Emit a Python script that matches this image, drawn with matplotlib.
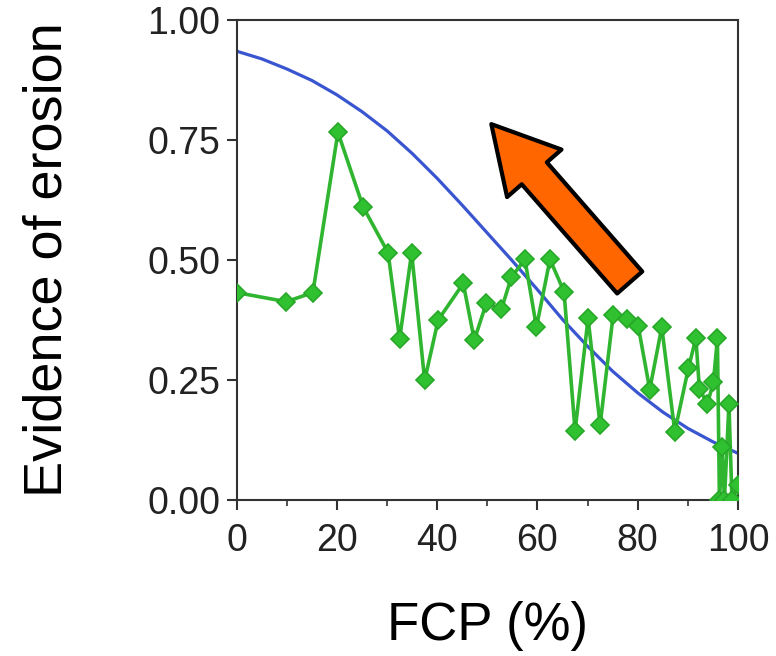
import matplotlib
matplotlib.use("Agg")
import matplotlib.pyplot as plt

# Observed evidence of erosion (green series)
fcp_obs = [0, 9.9, 15.2, 20.2, 25.2, 30.2, 32.5, 34.9, 37.5, 40.2, 45.2, 47.4, 49.8,
           52.8, 54.8, 57.5, 59.8, 62.5, 65.3, 67.5, 70.1, 72.5, 75.1, 77.8, 80.1,
           82.4, 84.8, 87.4, 90.1, 91.6, 92.3, 93.9, 95.1, 95.9, 96.3, 96.8, 97.3,
           98.2, 98.8, 100]
ev_obs = [0.432, 0.413, 0.432, 0.766, 0.611, 0.515, 0.335, 0.515, 0.249, 0.375,
          0.451, 0.333, 0.410, 0.397, 0.464, 0.501, 0.360, 0.501, 0.434, 0.144,
          0.378, 0.156, 0.385, 0.376, 0.362, 0.230, 0.360, 0.142, 0.274, 0.337,
          0.232, 0.200, 0.245, 0.337, 0.0, 0.111, 0.0, 0.200, 0.0, 0.030]

# Fitted curve (blue)
fcp_fit = [0, 5, 10, 15, 20, 25, 30, 35, 40, 45, 50, 55, 60, 65, 70, 75, 80, 85, 90, 95, 100]
ev_fit = [0.935, 0.919, 0.898, 0.874, 0.844, 0.809, 0.769, 0.722, 0.670, 0.614,
          0.556, 0.498, 0.438, 0.376, 0.320, 0.268, 0.223, 0.183, 0.149, 0.121, 0.097]

x_ticks = [0, 20, 40, 60, 80, 100]
x_minor = [10, 30, 50, 70, 90]
y_ticks = [0.0, 0.25, 0.50, 0.75, 1.00]
y_ticklabels = ["0.00", "0.25", "0.50", "0.75", "1.00"]

plt.rcParams['font.family'] = ['Liberation Sans', 'DejaVu Sans']

fig = plt.figure(figsize=(7.76, 6.56), dpi=100)
ax = fig.add_axes([0.305, 0.238, 0.646, 0.7315])

ax.plot(fcp_fit, ev_fit, color='#3a55d0', lw=2.3, zorder=2)
ax.plot(fcp_obs, ev_obs, color='#2fb52f', lw=2.6, marker='D', ms=9,
        mfc='#2fc12f', mec='#28a828', mew=1.2, zorder=3)

ax.annotate('', xy=(50.8, 0.783), xytext=(78.4, 0.453),
            arrowprops=dict(arrowstyle='simple,head_length=0.47,head_width=0.52,tail_width=0.24',
                            mutation_scale=100, fc='#ff6600', ec='black', lw=3,
                            shrinkA=0, shrinkB=0), zorder=4)

ax.set_xlim(0, 100)
ax.set_ylim(0, 1)
ax.set_xticks(x_ticks)
ax.set_xticks(x_minor, minor=True)
ax.set_yticks(y_ticks)
ax.set_yticklabels(y_ticklabels)

for s in ax.spines.values():
    s.set_color('#333333')
    s.set_linewidth(1.5)
ax.tick_params(axis='both', which='major', length=7, width=1.5, color='#333333',
               labelsize=27, labelcolor='#222222')
ax.tick_params(axis='y', which='major', pad=5)
ax.tick_params(axis='x', which='major', pad=10)
ax.tick_params(axis='x', which='minor', length=4, width=1.2, color='#333333')

ax.set_xlabel('FCP (%)', fontsize=38, labelpad=30, color='black')
ax.set_ylabel('Evidence of erosion', fontsize=39, labelpad=54, color='black')

fig.savefig('out.png', dpi=100, facecolor='white')
